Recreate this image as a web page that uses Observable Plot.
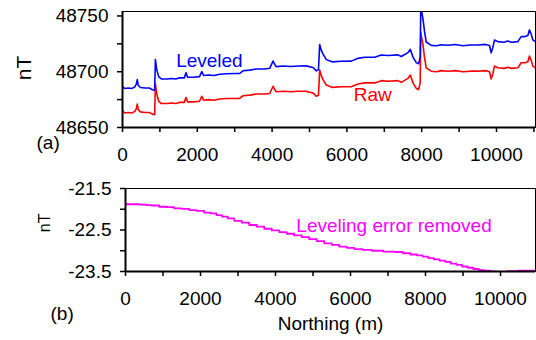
<!DOCTYPE html>
<html><head><meta charset="utf-8">
<script src="https://cdn.jsdelivr.net/npm/d3@7"></script>
<script src="https://cdn.jsdelivr.net/npm/@observablehq/plot@0.6"></script>
<style>
html,body{margin:0;padding:0;background:#fff;}
#chart{width:536px;height:340px;overflow:hidden;background:#fff;}
#chart svg{display:block;}
</style></head><body><div id="chart"></div>
<script>
// Panel (a): northing (m), raw and leveled total field (nT)
const northing = [0,60,150,250,330,370,395,420,480,600,720,800,860,880,915,970,1040,1200,1300,1430,1520,1650,1700,1740,1900,2060,2120,2170,2300,2450,2600,2780,3000,3126,3224,3400,3580,3800,3936,4025,4070,4114,4300,4500,4700,4900,5095,5183,5240,5272,5320,5362,5450,5600,5851,6118,6297,6475,6743,6920,7100,7366,7454,7633,7695,7767,7855,7917,7960,7975,8033,8077,8122,8255,8400,8522,8700,8900,9100,9300,9500,9700,9813,9840,9858,9900,9947,10037,10200,10300,10400,10571,10660,10760,10839,10880,10930,10972,11060];
const raw = [48665,48663,48663.5,48663,48664.5,48667,48671,48666,48664,48663.5,48663.5,48662,48661.5,48689,48680,48673.5,48671.5,48671.5,48672,48671.5,48672.5,48672.5,48677,48673,48673,48673.5,48678,48674.5,48675,48674.5,48675.5,48676,48676,48676,48678.5,48679,48680,48680,48680.5,48687,48684,48682,48682.5,48682,48682.5,48682.5,48681,48678,48679,48701.5,48696,48693,48688,48686,48686.5,48686.5,48689,48690,48690,48692,48691.5,48692,48690.5,48694,48697,48690,48685,48684,48690,48735,48724.5,48712.5,48703.5,48700.5,48700,48701,48700.5,48701,48700,48700.5,48700.5,48701,48700,48696,48693.5,48698,48705,48703.5,48703,48704,48703,48703.5,48708,48708,48709,48714,48710,48705,48703];
const leveled = [48686.9,48684.9,48685.4,48684.9,48686.4,48688.9,48692.9,48687.9,48685.9,48685.4,48685.4,48683.9,48683.4,48710.9,48701.9,48695.4,48693.5,48693.5,48694,48693.5,48694.5,48694.5,48699,48695,48695.1,48695.6,48700.1,48696.6,48697.1,48696.6,48697.7,48698.2,48698.35,48698.35,48700.85,48701.45,48702.45,48702.45,48703.05,48709.55,48706.55,48704.55,48705.15,48704.65,48705.15,48705.25,48703.75,48700.75,48701.85,48724.35,48718.85,48715.85,48710.85,48708.85,48709.4,48709.5,48712,48713,48713,48715,48714.6,48715.1,48713.6,48717.1,48720.1,48713.1,48708.15,48707.15,48713.15,48758.15,48747.65,48735.65,48726.65,48723.65,48723.25,48724.25,48723.75,48724.35,48723.35,48723.95,48723.95,48724.5,48723.5,48719.5,48717,48721.5,48728.5,48727,48726.5,48727.5,48726.5,48727,48731.5,48731.5,48732.5,48737.5,48733.5,48728.5,48726.5];

// Panel (b): leveling error removed (nT)
const errNorthing = [0,250,500,600,800,1000,1200,1400,1600,1800,2000,2200,2350,2500,2650,2800,3000,3200,3400,3600,3800,4000,4200,4400,4600,4800,5000,5200,5400,5600,5800,6000,6200,6450,6700,7050,7300,7500,7700,7850,8000,8150,8300,8450,8600,8750,8900,9050,9200,9350,9500,9650,9800,10000,10350,10600,10950];
const levelingError = [-21.88,-21.88,-21.89,-21.90,-21.91,-21.94,-21.95,-21.98,-21.99,-22.02,-22.04,-22.08,-22.10,-22.14,-22.18,-22.22,-22.28,-22.32,-22.38,-22.42,-22.47,-22.51,-22.55,-22.59,-22.63,-22.67,-22.72,-22.77,-22.82,-22.86,-22.90,-22.93,-22.96,-22.98,-23.00,-23.02,-23.03,-23.06,-23.09,-23.11,-23.14,-23.18,-23.21,-23.24,-23.27,-23.31,-23.34,-23.38,-23.41,-23.44,-23.47,-23.48,-23.50,-23.51,-23.49,-23.48,-23.48];

// Ticks
const xTicksA = [0,1000,2000,3000,4000,5000,6000,7000,8000,9000,10000,11000];
const xTicksB = [0,1000,2000,3000,4000,5000,6000,7000,8000,9000,10000];
const xTickLabels = [0,2000,4000,6000,8000,10000];
const yTicksA = [48650,48675,48700,48725,48750];
const yTickLabelsA = [48650,48700,48750];
const yTicksB = [-23.5,-23,-22.5,-22,-21.5];
const yTickLabelsB = [-23.5,-22.5,-21.5];

const dataA = northing.map((x, i) => ({x, raw: raw[i], leveled: leveled[i]}));
const dataB = errNorthing.map((x, i) => ({x, e: levelingError[i]}));

const font = "'Liberation Sans', Arial, Helvetica, sans-serif";
const style = {fontFamily: font, fontSize: "19px", color: "#000", background: "#fff", overflow: "visible"};
const ax = {strokeWidth: 1.5, label: null, tickSize: 5, tickFormat: () => ""};
const xLab = (fmt) => Plot.text(xTickLabels, {x: d => d, text: fmt, frameAnchor: "bottom", lineAnchor: "top", dy: 20, fontSize: 19, fill: "#000"});
const yLab = (ticks, fmt) => Plot.text(ticks, {y: d => d, text: fmt, frameAnchor: "left", textAnchor: "end", dx: -14, fontSize: 19, fill: "#000"});

const plotA = Plot.plot({
  width: 536, height: 170,
  marginLeft: 122, marginRight: 1, marginTop: 11, marginBottom: 43,
  style,
  x: {domain: [0, 11043]},
  y: {domain: [48650, 48754]},
  marks: [
    Plot.line(dataA, {x: "x", y: "raw", stroke: "#ff0000", strokeWidth: 1.6, clip: true}),
    Plot.line(dataA, {x: "x", y: "leveled", stroke: "#0000ff", strokeWidth: 1.6, clip: true}),
    Plot.frame({stroke: "#000", strokeWidth: 1}),
    Plot.ruleX([0], {stroke: "#000", strokeWidth: 2}),
    Plot.ruleY([48650], {stroke: "#000", strokeWidth: 2}),
    Plot.axisX({...ax, ticks: xTicksA}),
    Plot.axisY({...ax, ticks: yTicksA}),
    xLab(d => String(d)),
    yLab(yTickLabelsA, d => String(d)),
    Plot.text(["Leveled"], {x: 2324, y: 48710, text: d => d, fill: "#0000ff", fontSize: 19}),
    Plot.text(["Raw"], {x: 6693, y: 48679, text: d => d, fill: "#ff0000", fontSize: 19}),
    Plot.text(["nT"], {x: -2627, y: 48703.3, rotate: -90, text: d => d, fill: "#000", fontSize: 21}),
    Plot.text(["(a)"], {frameAnchor: "bottom-left", dx: -86, dy: 21, text: d => d, fill: "#000", fontSize: 19})
  ]
});

const plotB = Plot.plot({
  width: 536, height: 170,
  marginLeft: 125, marginRight: 1, marginTop: 18, marginBottom: 69,
  style,
  x: {domain: [0, 10933]},
  y: {domain: [-23.5, -21.5]},
  marks: [
    Plot.line(dataB, {x: "x", y: "e", stroke: "#ff00ff", strokeWidth: 1.8, curve: "step", clip: true}),
    Plot.frame({stroke: "#000", strokeWidth: 1}),
    Plot.ruleX([0], {stroke: "#000", strokeWidth: 2}),
    Plot.ruleY([-23.5], {stroke: "#000", strokeWidth: 2}),
    Plot.axisX({...ax, ticks: xTicksB}),
    Plot.axisY({...ax, ticks: yTicksB}),
    xLab(d => String(d)),
    yLab(yTickLabelsB, d => d.toFixed(1)),
    Plot.text(["Leveling error removed"], {x: 7160, y: -22.40, text: d => d, fill: "#ff00ff", fontSize: 19}),
    Plot.text(["nT"], {x: -2160, y: -22.33, rotate: -90, text: d => d, fill: "#000", fontSize: 16}),
    Plot.text(["(b)"], {frameAnchor: "bottom-left", dx: -75, dy: 48, text: d => d, fill: "#000", fontSize: 19}),
    Plot.text(["Northing (m)"], {frameAnchor: "bottom", dx: 0, dy: 58, text: d => d, fill: "#000", fontSize: 19})
  ]
});

const chart = document.getElementById("chart");
chart.appendChild(plotA);
chart.appendChild(plotB);
</script>
</body></html>
